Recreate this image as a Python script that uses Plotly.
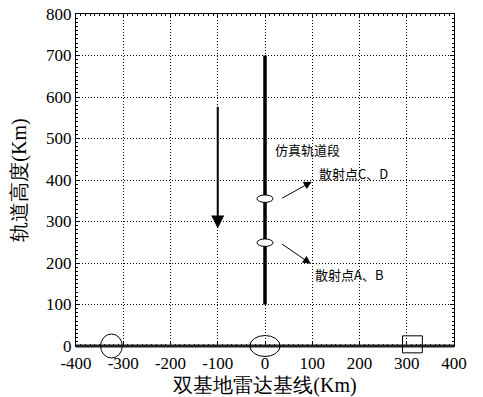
import plotly.graph_objects as go

# ---- data ----
x_tick_vals = [-400, -300, -200, -100, 0, 100, 200, 300, 400]
x_tick_text = ["-400", "-300", "-200", "-100", "0", "100", "200", "300", "400"]
y_tick_vals = [0, 100, 200, 300, 400, 500, 600, 700, 800]
y_tick_text = ["0", "100", "200", "300", "400", "500", "600", "700", "800"]
x_range = [-400, 400]
y_range = [0, 800]

orbit_x = [0, 0]
orbit_y = [100, 700]

descent_x = -100
descent_y_start = 580
descent_y_end = 283

scatter_pt_x = [0, 0]
scatter_pt_y = [355, 249]
scatter_pt_halfw = 17
scatter_pt_halfh = 9

label_text = ["仿真轨道段", "散射点C、D", "散射点A、B"]
label_x = [17, 110, 102]
label_y = [473, 416, 173]

pointer_from_x = [33, 33]
pointer_from_y = [354, 248]
pointer_to_x = [99, 97]
pointer_to_y = [396, 198]

station_x = [-325, 0, 312]
station_y = [0, 0, 4]
station_shape = ["circle", "circle", "rect"]
station_halfw = [23, 32, 21]
station_halfh_px = [12, 10.5, 8.5]

baseline_x = [-400, 400]
baseline_y = 0

# ---- figure ----
serif = "Liberation Serif"
cjk = "Noto Sans CJK SC"

fig = go.Figure()
fig.add_trace(go.Scatter(x=orbit_x, y=orbit_y, mode="lines",
                         line=dict(color="black", width=3.5), showlegend=False,
                         hoverinfo="skip"))

shapes = []
for cx, cy in zip(scatter_pt_x, scatter_pt_y):
    shapes.append(dict(type="circle", xref="x", yref="y",
                       x0=cx - scatter_pt_halfw, x1=cx + scatter_pt_halfw,
                       y0=cy - scatter_pt_halfh, y1=cy + scatter_pt_halfh,
                       line=dict(color="black", width=1), fillcolor="white",
                       layer="above"))

def yfrac(v):
    return (v - y_range[0]) / (y_range[1] - y_range[0])

shapes.append(dict(type="line", xref="x", yref="y domain",
                   x0=baseline_x[0], x1=baseline_x[1],
                   y0=yfrac(baseline_y), y1=yfrac(baseline_y),
                   line=dict(color="#222222", width=3), layer="above"))

for sx, sy, st, hw, hh in zip(station_x, station_y, station_shape,
                              station_halfw, station_halfh_px):
    shapes.append(dict(type=st, xref="x", yref="y domain",
                       ysizemode="pixel", yanchor=yfrac(sy),
                       x0=sx - hw, x1=sx + hw, y0=-hh, y1=hh,
                       line=dict(color="black", width=1), fillcolor="rgba(0,0,0,0)",
                       layer="above"))

annotations = []
annotations.append(dict(x=descent_x, y=descent_y_end, ax=descent_x, ay=descent_y_start,
                        xref="x", yref="y", axref="x", ayref="y", text="",
                        showarrow=True, arrowhead=2, arrowwidth=2, arrowsize=1.3,
                        arrowcolor="black"))
for fx, fy, tx, ty in zip(pointer_from_x, pointer_from_y, pointer_to_x, pointer_to_y):
    annotations.append(dict(x=tx, y=ty, ax=fx, ay=fy, xref="x", yref="y",
                            axref="x", ayref="y", text="", showarrow=True,
                            arrowhead=2, arrowwidth=1, arrowsize=1.6,
                            arrowcolor="black"))
for t, lx, ly in zip(label_text, label_x, label_y):
    annotations.append(dict(x=lx, y=ly, xref="x", yref="y", text=t,
                            showarrow=False, xanchor="left", yanchor="middle",
                            font=dict(family=cjk, size=13, color="black")))

axis_common = dict(showline=True, linecolor="black", linewidth=1, mirror="ticks",
                   ticks="inside", ticklen=4, tickcolor="black",
                   showgrid=True, gridcolor="black", griddash="1px,2px", gridwidth=1,
                   zeroline=False, automargin=False,
                   tickfont=dict(family=serif, size=17, color="black"),
                   minor=dict(ticks="inside", ticklen=2, tickcolor="black",
                              dtick=10, showgrid=False))

fig.update_xaxes(range=x_range, tickvals=x_tick_vals, ticktext=x_tick_text,
                 ticklabelstandoff=2,
                 title=dict(text="双基地雷达基线(Km)", standoff=6,
                            font=dict(family=serif, size=20, color="black")),
                 **axis_common)
fig.update_yaxes(range=y_range, tickvals=y_tick_vals, ticktext=y_tick_text,
                 title=dict(text="轨道高度(Km)", standoff=14,
                            font=dict(family=serif, size=20, color="black")),
                 **axis_common)

fig.update_layout(width=483, height=397, margin=dict(l=76, r=29, t=14, b=51),
                  plot_bgcolor="white", paper_bgcolor="white",
                  shapes=shapes, annotations=annotations, showlegend=False)

fig.write_html("out.html")
